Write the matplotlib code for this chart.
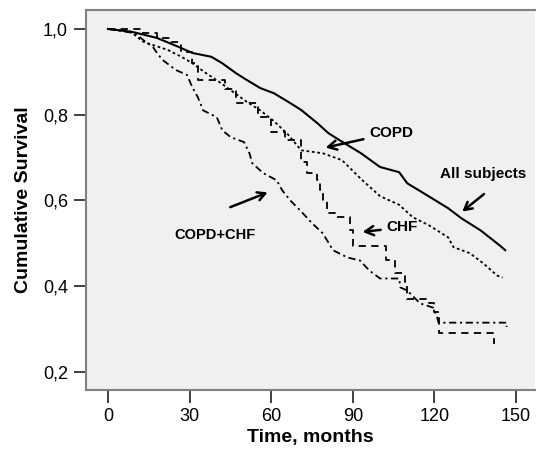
import matplotlib.pyplot as plt

# Datos (tiempo en meses, supervivencia acumulada)
t_all = [0, 9, 18, 26, 31, 38, 42, 47, 51, 56, 61, 67, 71, 77, 81, 85, 93, 100,
         107, 110, 116, 125, 130, 137, 144, 146]
s_all = [1.0, .993, .979, .958, .944, .935, .92, .897, .881, .862, .85, .827, .811,
         .78, .757, .741, .71, .678, .666, .64, .617, .582, .558, .530, .495, .484]

t_copd = [0, 8, 13, 22, 27, 31, 36, 41, 46, 51, 56, 61, 66, 71, 79, 86, 93, 100,
          107, 112, 118, 125, 127, 133, 138, 143, 145]
s_copd = [1.0, .995, .97, .951, .935, .92, .897, .876, .853, .83, .81, .785, .755,
          .717, .71, .694, .65, .61, .59, .561, .542, .514, .491, .477, .453, .425, .42]

t_chf = [0, 12, 18, 23, 27, 31, 33, 39, 43, 47, 55, 60, 65, 71, 73, 77, 78, 79,
         80.5, 84, 89, 90, 101, 102, 105.5, 109, 110, 118, 120, 121.5, 141.5, 142]
s_chf = [1.0, .99, .98, .97, .946, .92, .88, .88, .86, .827, .794, .76, .74, .689,
         .664, .647, .624, .60, .57, .561, .53, .493, .493, .46, .43, .40, .37, .36,
         .34, .292, .292, .265]

t_both = [0, 10, 13, 16.5, 18, 20, 25, 29, 31, 33, 35, 40, 42, 45, 50, 52, 53, 57,
          62, 64, 67, 70.6, 75, 79, 82.7, 88, 92.6, 96, 100, 107, 107.5, 110, 114.7,
          119.5, 121, 121.5, 146.5, 146.5]
s_both = [1.0, .99, .974, .958, .944, .928, .904, .893, .864, .841, .81, .794, .764,
          .748, .736, .71, .687, .664, .647, .624, .60, .577, .547, .523, .484, .467,
          .46, .437, .418, .418, .397, .39, .36, .35, .327, .315, .315, .305]

x_ticks = [0, 30, 60, 90, 120, 150]
y_ticks = [0.2, 0.4, 0.6, 0.8, 1.0]
y_tick_labels = ["0,2", "0,4", "0,6", "0,8", "1,0"]

plt.rcParams['font.family'] = ['Liberation Sans', 'DejaVu Sans']

fig = plt.figure(figsize=(5.36, 4.58), dpi=100)
ax = fig.add_axes([0.1604, 0.1485, 0.838, 0.8295])
ax.set_facecolor('#f0f0f0')

lw = 1.3
ax.plot(t_all, s_all, color='black', lw=1.5)
ax.plot(t_copd, s_copd, color='black', lw=lw, linestyle=(0, (1.5, 1.5)))
ax.step(t_chf, s_chf, where='post', color='black', lw=lw, linestyle=(0, (4, 3)))
ax.plot(t_both, s_both, color='black', lw=lw, linestyle=(0, (4, 2, 1.2, 2)))

ax.set_xlim(-8.1, 157)
ax.set_ylim(0.158, 1.044)
ax.set_xticks(x_ticks)
ax.set_yticks(y_ticks)
ax.set_yticklabels(y_tick_labels)

for side in ['left', 'bottom', 'top']:
    ax.spines[side].set_color('#808080')
    ax.spines[side].set_linewidth(1.5)
ax.spines['right'].set_visible(False)
ax.tick_params(direction='out', length=9, width=1.4, color='#404040',
               labelsize=13, pad=4)

ax.set_xlabel('Time, months', fontsize=14, fontweight='bold', labelpad=3)
ax.set_ylabel('Cumulative Survival', fontsize=14, fontweight='bold', labelpad=8)

# Anotaciones con flechas (punta abierta)
arrow = dict(arrowstyle='->,head_length=0.55,head_width=0.3', color='black', lw=1.8)
ax.annotate('COPD', xy=(79, 0.722), xytext=(104, 0.757), fontsize=11,
            fontweight='bold', ha='center', va='center', arrowprops=arrow)
ax.annotate('', xy=(129.4, 0.570), xytext=(139, 0.619), arrowprops=arrow)
ax.text(138, 0.661, 'All subjects', fontsize=11, fontweight='bold',
        ha='center', va='center')
ax.annotate('CHF', xy=(92.6, 0.526), xytext=(108, 0.537), fontsize=11,
            fontweight='bold', ha='center', va='center', arrowprops=arrow)
ax.annotate('', xy=(59.6, 0.621), xytext=(44, 0.582), arrowprops=arrow)
ax.text(39.3, 0.519, 'COPD+CHF', fontsize=10.5, fontweight='bold',
        ha='center', va='center')

fig.savefig('out.png', dpi=100)
